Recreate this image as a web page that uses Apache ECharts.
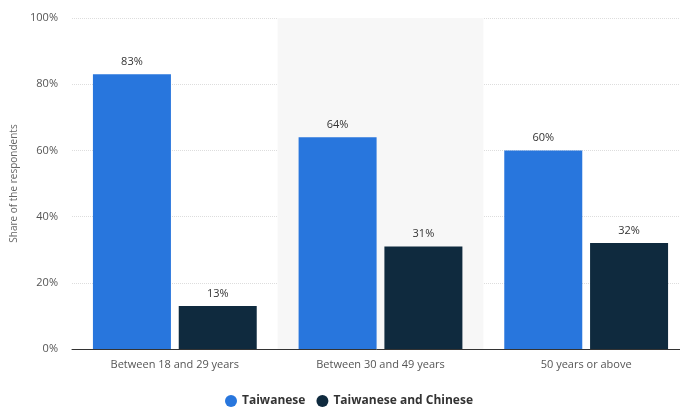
<!DOCTYPE html>
<html><head><meta charset="utf-8">
<script src="https://cdn.jsdelivr.net/npm/echarts@6/dist/echarts.min.js"></script>
<style>html,body{margin:0;padding:0;background:#fff}#c{width:680px;height:412px}</style>
</head><body><div id="c"></div>
<script>
const categories = ['Between 18 and 29 years', 'Between 30 and 49 years', '50 years or above'];
const taiwanese = [83, 64, 60];
const taiwaneseAndChinese = [13, 31, 32];
const seriesNames = ['Taiwanese', 'Taiwanese and Chinese'];

const chart = echarts.init(document.getElementById('c'));
const font = 'Open Sans, Liberation Sans, sans-serif';
chart.setOption({
  animation: false,
  grid: {left: 72, width: 617, top: 18, bottom: 63, outerBoundsMode: 'none'},
  legend: {
    bottom: 0, left: 220, icon: 'circle', itemWidth: 12, itemHeight: 12, itemGap: 11,
    textStyle: {fontFamily: font, fontSize: 12, color: '#333', fontWeight: 'bold'},
    data: seriesNames
  },
  xAxis: {
    type: 'category', data: categories,
    axisLine: {lineStyle: {color: '#333', width: 1}},
    axisTick: {show: false},
    axisLabel: {fontFamily: font, fontSize: 11, color: '#555', margin: 10},
    splitArea: {show: true, areaStyle: {color: ['rgba(255,255,255,0)', '#f7f7f7']}}
  },
  yAxis: {
    type: 'value', min: 0, max: 100, interval: 20,
    name: 'Share of the respondents', nameLocation: 'middle', nameGap: 52, nameRotate: 90,
    nameTextStyle: {fontFamily: font, fontSize: 10, color: '#666'},
    axisLabel: {formatter: '{value}%', fontFamily: font, fontSize: 11, color: '#555', margin: 14},
    splitLine: {lineStyle: {color: '#ddd', type: 'dotted'}},
    axisLine: {show: false}, axisTick: {show: false}
  },
  series: [
    {name: seriesNames[0], type: 'bar', data: taiwanese, barWidth: 78, barGap: '10%',
     itemStyle: {color: '#2876dd'},
     label: {show: true, position: 'top', formatter: '{c}%', fontFamily: font, fontSize: 11, color: '#333', distance: 7}},
    {name: seriesNames[1], type: 'bar', data: taiwaneseAndChinese, barWidth: 78,
     itemStyle: {color: '#0f2a3e'},
     label: {show: true, position: 'top', formatter: '{c}%', fontFamily: font, fontSize: 11, color: '#333', distance: 7}}
  ]
});
</script></body></html>
